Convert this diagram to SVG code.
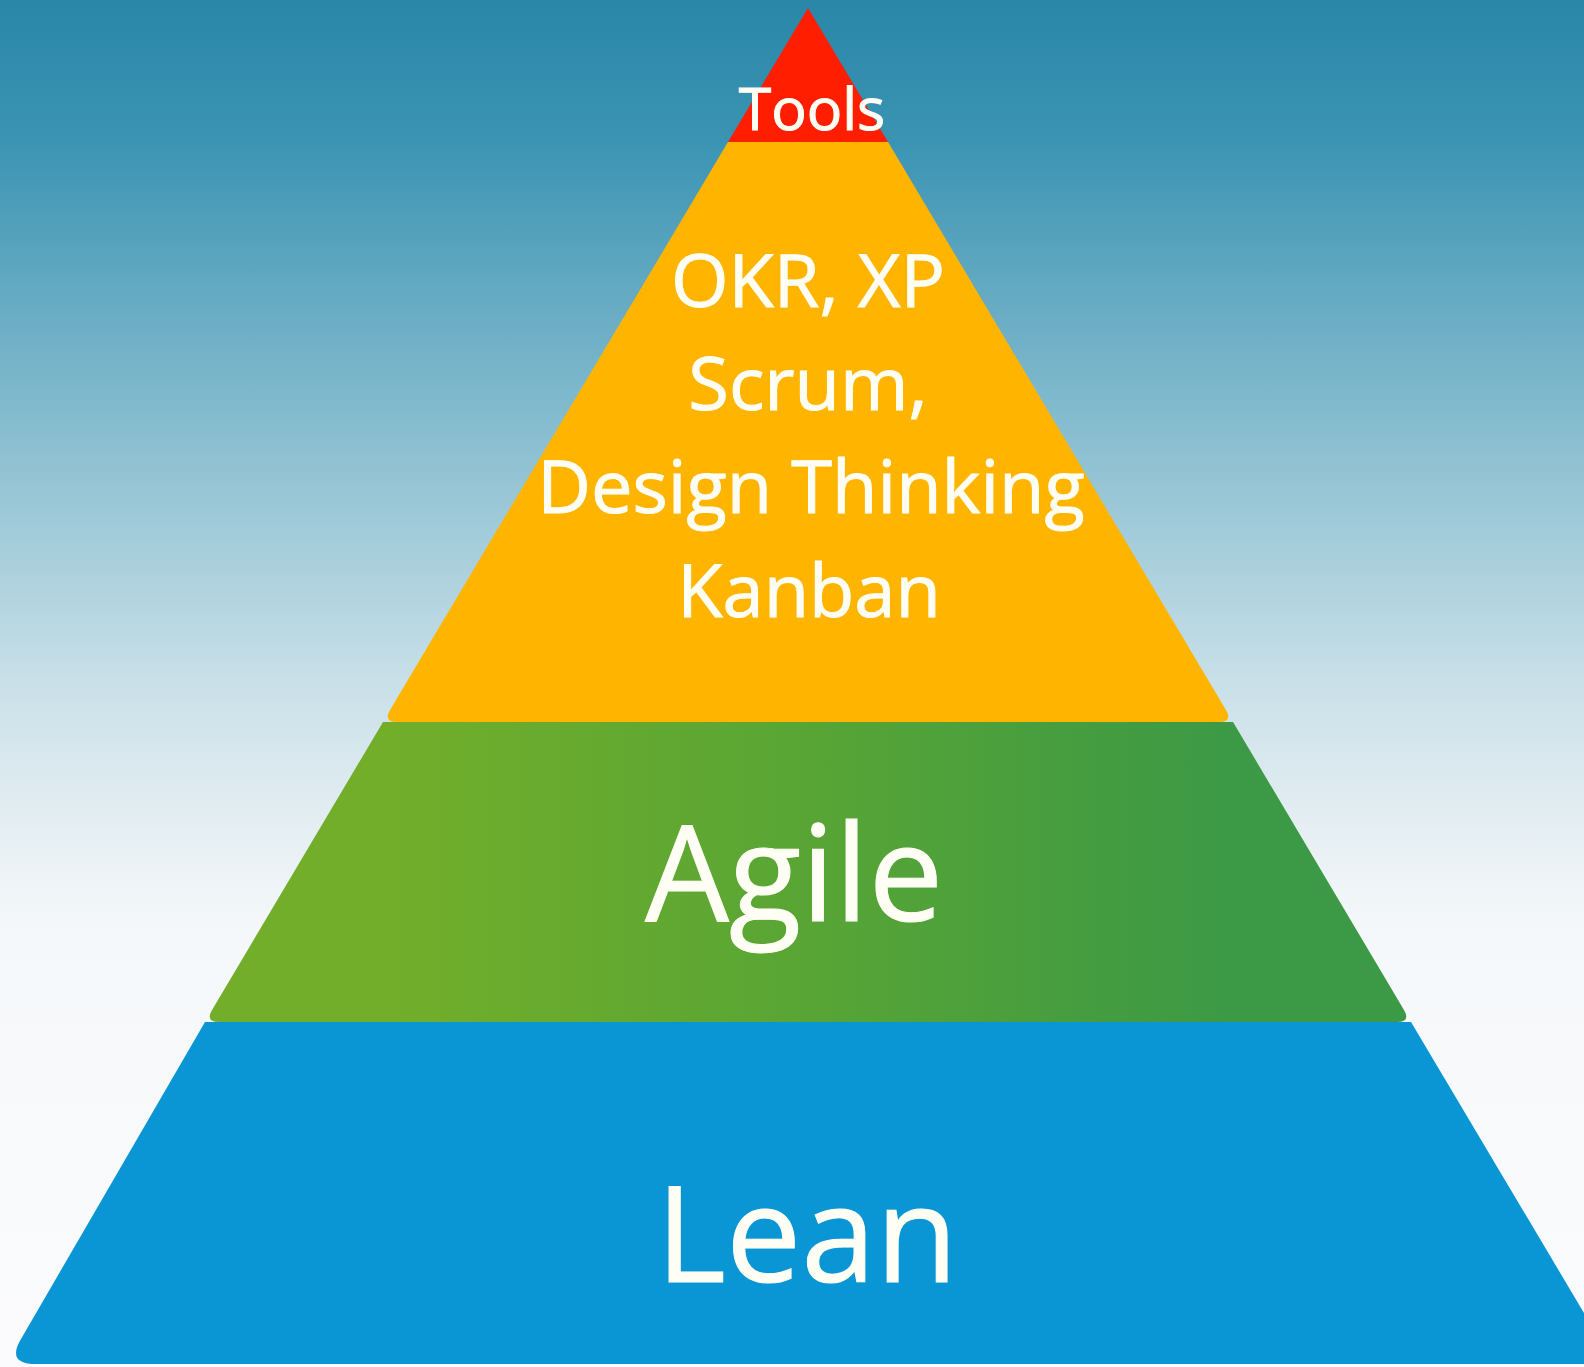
<svg xmlns="http://www.w3.org/2000/svg" width="1584" height="1367" viewBox="0 0 1584 1367">
  <defs>
    <linearGradient id="bg" x1="0" y1="0" x2="0" y2="1">
      <stop offset="0" stop-color="#2A87A8"/>
      <stop offset="0.1" stop-color="#3A93B3"/>
      <stop offset="0.2" stop-color="#5FA7C0"/>
      <stop offset="0.35" stop-color="#94C4D4"/>
      <stop offset="0.5" stop-color="#C9E0E8"/>
      <stop offset="0.6" stop-color="#E4EEF2"/>
      <stop offset="0.68" stop-color="#F5F8FA"/>
      <stop offset="1" stop-color="#FBFBFD"/>
    </linearGradient>
    <linearGradient id="greenGrad" x1="0" y1="0" x2="1" y2="0">
      <stop offset="0.15" stop-color="#72AE2A"/>
      <stop offset="0.5" stop-color="#58A535"/>
      <stop offset="0.85" stop-color="#3C9945"/>
    </linearGradient>
  </defs>
  <style>
    .lbl { font-family: "Open Sans", "Noto Sans", "DejaVu Sans", sans-serif; fill: #FFFEF4; stroke: #FFFEF4; stroke-width: 1; text-anchor: middle; }
  </style>
  <rect x="0" y="0" width="1584" height="1367" fill="url(#bg)"/>
  <g id="connectors"/>
  <g id="tier-lean">
    <path d="M 205 1022 L 1411 1022 L 1609 1355 Q 1615 1364 1601 1364 L 36 1364 Q 6 1364 21 1339 Z" fill="#0A96D4"/>
    <text class="lbl" x="807" y="1282" font-size="134">Lean</text>
  </g>
  <g id="tier-agile">
    <path d="M 383 722 L 1233 722 L 1404 1010 Q 1411 1022 1397 1022 L 219 1022 Q 205 1022 212 1010 Z" fill="url(#greenGrad)"/>
    <text class="lbl" x="794" y="921" font-size="133">Agile</text>
  </g>
  <g id="tier-methods">
    <path d="M 728 142 L 888 142 L 1226 710 Q 1233 722 1219 722 L 397 722 Q 383 722 390 710 Z" fill="#FFB500"/>
    <text class="lbl" x="808" y="307" font-size="74">OKR, XP</text>
    <text class="lbl" x="808" y="410" font-size="74">Scrum,</text>
    <text class="lbl" x="811" y="513" font-size="74">Design Thinking</text>
    <text class="lbl" x="809" y="617" font-size="74">Kanban</text>
  </g>
  <g id="tier-tools">
    <path d="M 808 8 L 888 142 L 728 142 Z" fill="#FF1E00"/>
    <text class="lbl" x="812" y="130" font-size="59">Tools</text>
  </g>
</svg>
